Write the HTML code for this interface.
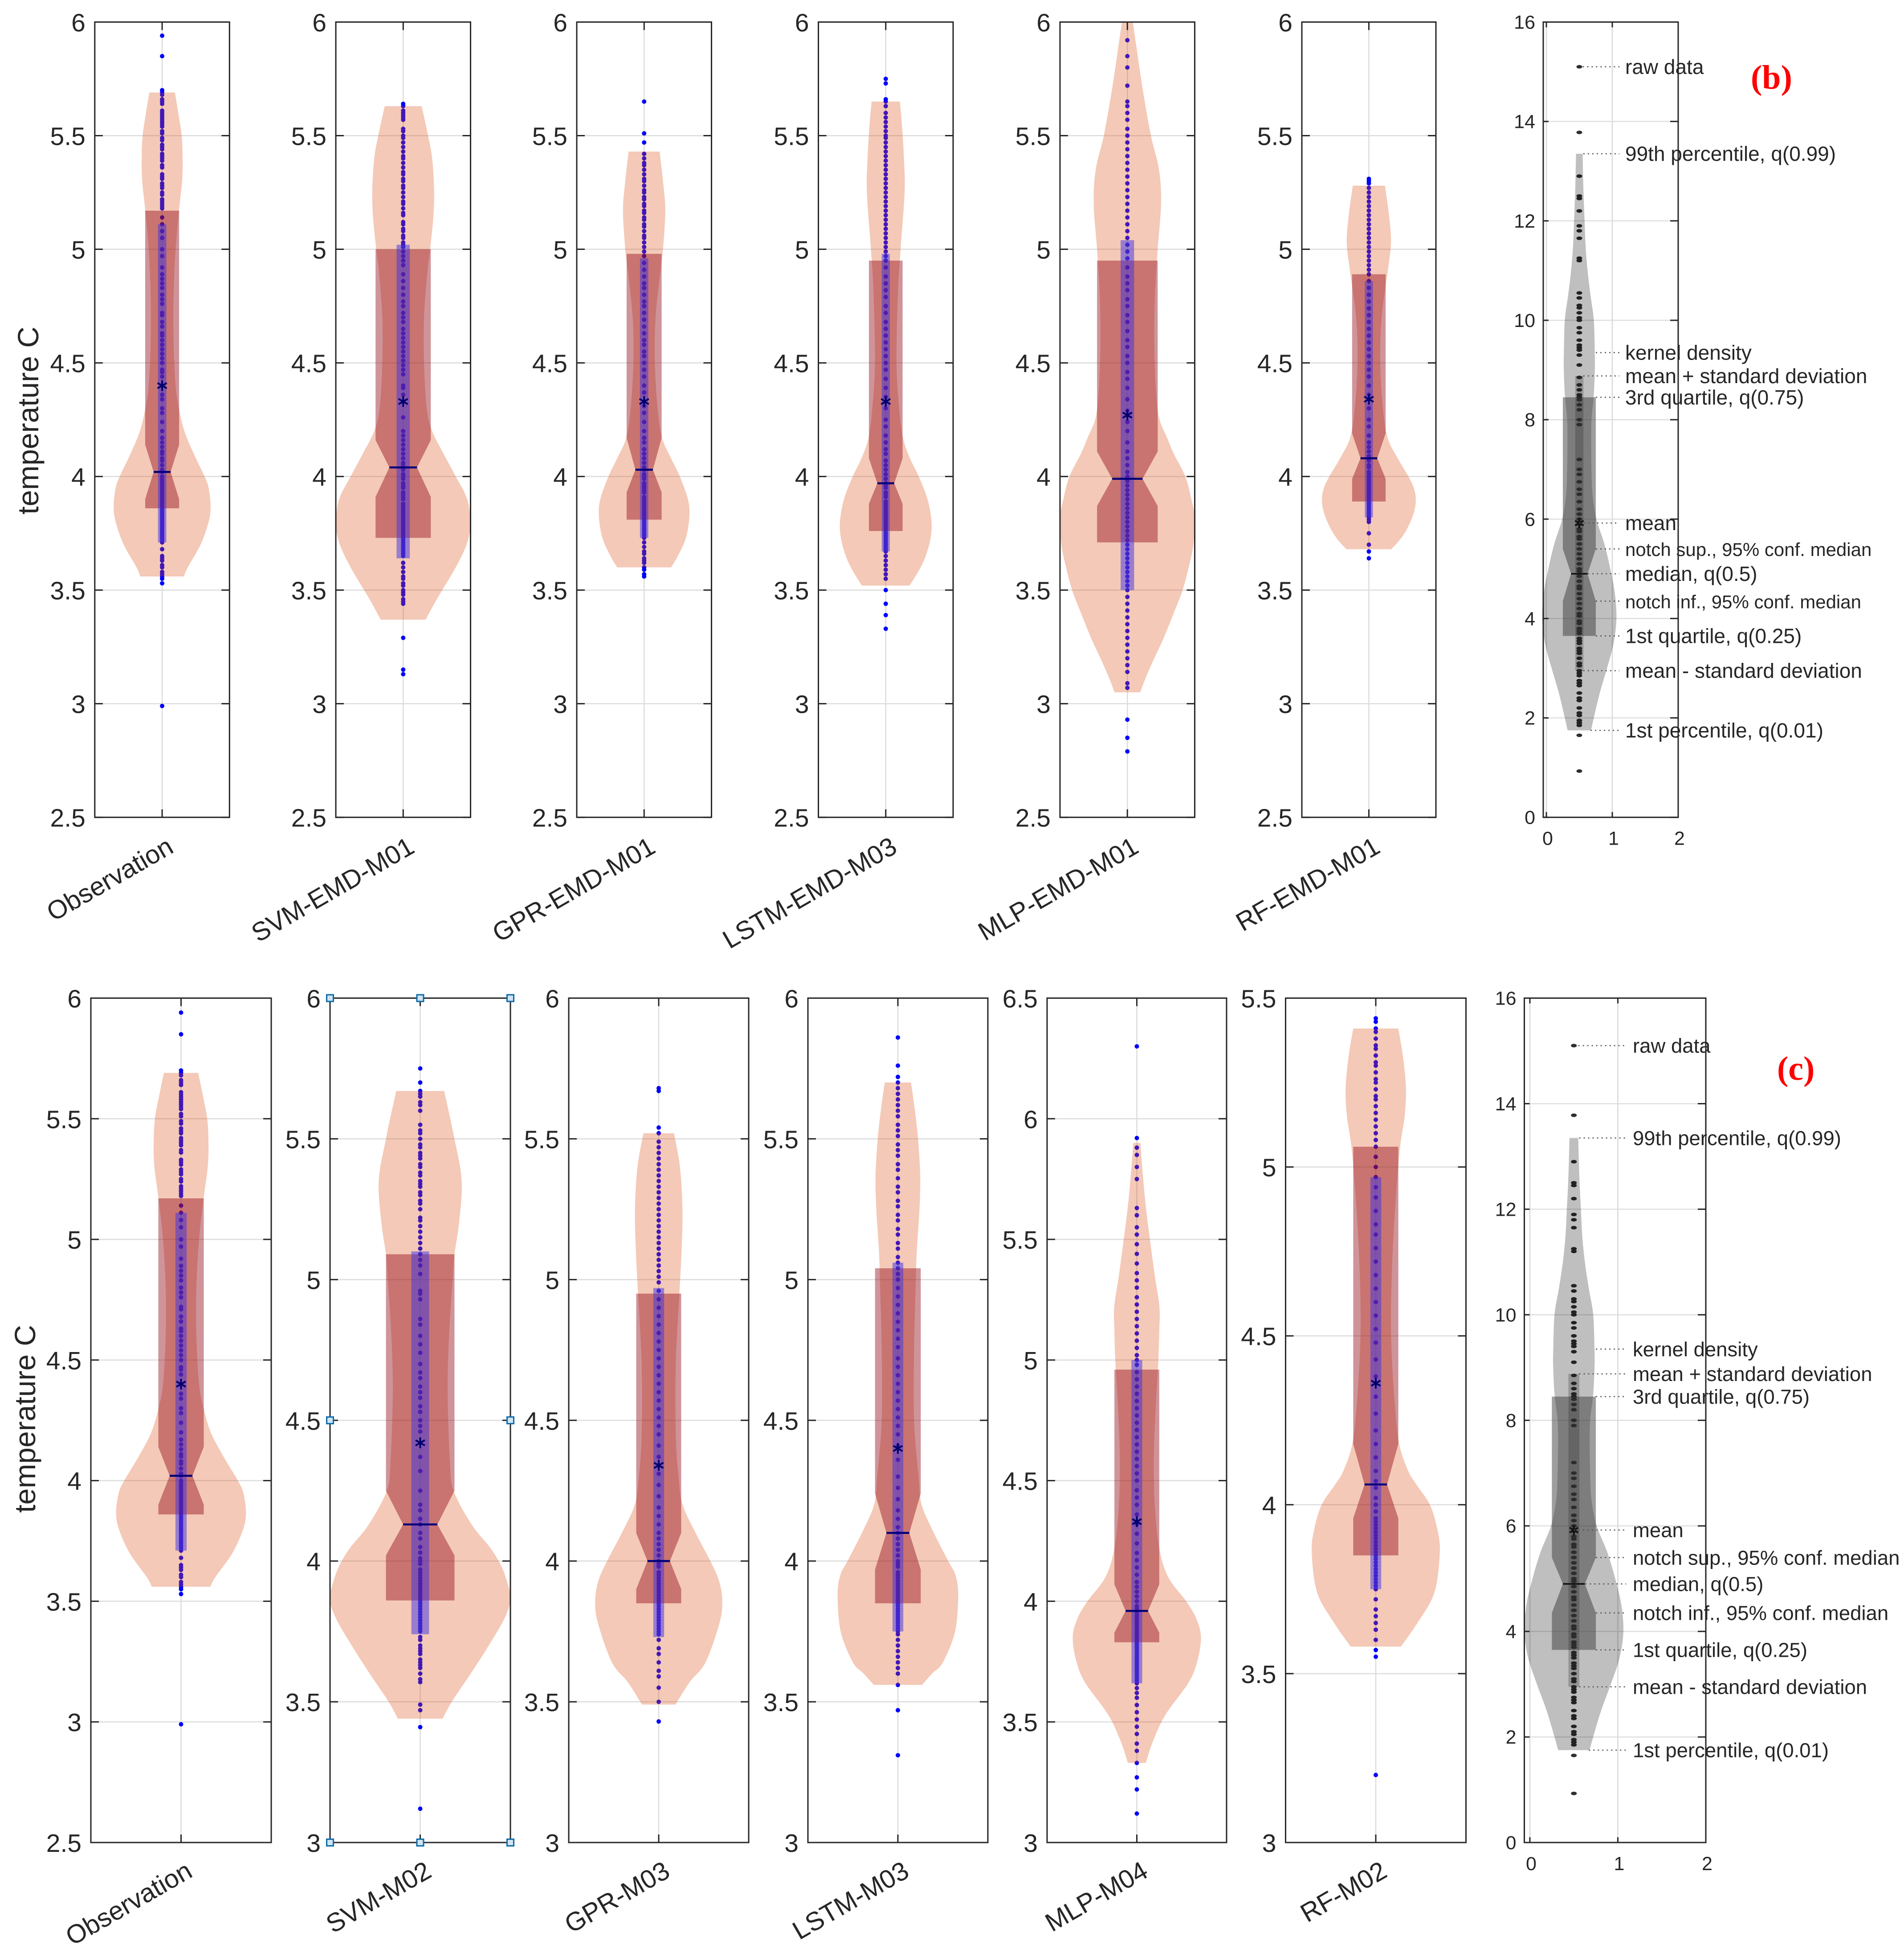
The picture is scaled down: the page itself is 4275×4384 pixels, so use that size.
<!DOCTYPE html>
<html lang="en">
<head>
<meta charset="utf-8">
<title>Violin plots of temperature: observations and models</title>
<style>
html,body{margin:0;padding:0;background:#fff}
svg{display:block}
text{font-family:"Liberation Sans",Arial,sans-serif;fill:#262626}
</style>
</head>
<body>
<svg id="chart" xmlns="http://www.w3.org/2000/svg" width="4275" height="4384" viewBox="0 0 4275 4384">
<rect width="4275" height="4384" fill="#fff"/>
</svg>
<script>
/* ---------- categories ---------- */
const panelLabels=["Observation","SVM-EMD-M01","GPR-EMD-M01","LSTM-EMD-M03","MLP-EMD-M01","RF-EMD-M01","Observation","SVM-M02","GPR-M03","LSTM-M03","MLP-M04","RF-M02"];

/* ---------- y-axis limits and tick labels ---------- */
const yLimitsLow=[2.5,2.5,2.5,2.5,2.5,2.5,2.5,3,3,3,3,3];
const yLimitsHigh=[6,6,6,6,6,6,6,6,6,6,6.5,5.5];
const ticksWide=["2.5","3","3.5","4","4.5","5","5.5","6"];
const ticksNarrow=["3","3.5","4","4.5","5","5.5","6"];
const ticksMlp=["3","3.5","4","4.5","5","5.5","6","6.5"];
const ticksRf=["3","3.5","4","4.5","5","5.5"];
const panelTicks=[ticksWide,ticksWide,ticksWide,ticksWide,ticksWide,ticksWide,ticksWide,ticksNarrow,ticksNarrow,ticksNarrow,ticksMlp,ticksRf];

/* ---------- raw data dots ---------- */
const rawObservation=[5.94,5.85,5.70,5.69,5.68,5.66,5.65,5.64,5.61,5.60,5.59,5.58,5.57,5.56,5.55,5.54,5.52,5.51,5.49,5.48,5.46,5.45,5.44,5.42,5.41,5.40,5.39,5.37,5.36,5.33,5.32,5.31,5.29,5.28,5.27,5.25,5.24,5.22,5.21,5.20,5.19,5.18,5.14,5.11,5.08,5.05,5.00,4.97,4.92,4.89,4.87,4.85,4.83,4.80,4.78,4.76,4.72,4.71,4.68,4.66,4.63,4.62,4.60,4.58,4.56,4.54,4.52,4.50,4.47,4.46,4.44,4.36,4.34,4.30,4.28,4.24,4.20,4.17,4.15,4.13,4.11,4.10,4.08,4.07,4.05,4.03,4.02,4.00,3.99,3.98,3.97,3.96,3.95,3.94,3.93,3.92,3.91,3.90,3.89,3.88,3.87,3.86,3.85,3.84,3.83,3.82,3.81,3.80,3.79,3.78,3.77,3.76,3.75,3.74,3.73,3.72,3.71,3.68,3.65,3.64,3.63,3.61,3.60,3.58,3.57,3.56,3.55,3.53,2.99];
const rawSvmEmd=[5.64,5.63,5.61,5.60,5.59,5.58,5.57,5.53,5.52,5.50,5.49,5.47,5.45,5.43,5.41,5.40,5.38,5.36,5.34,5.33,5.31,5.30,5.28,5.27,5.25,5.23,5.21,5.20,5.18,5.16,5.15,5.12,5.11,5.09,5.08,5.06,5.05,5.03,5.02,5.01,4.99,4.97,4.95,4.93,4.89,4.86,4.83,4.80,4.77,4.75,4.72,4.70,4.68,4.65,4.63,4.61,4.59,4.57,4.55,4.53,4.51,4.49,4.47,4.45,4.40,4.39,4.36,4.26,4.20,4.18,4.16,4.14,4.12,4.10,4.08,4.06,4.05,4.03,4.01,4.00,3.99,3.97,3.96,3.95,3.93,3.92,3.91,3.90,3.88,3.87,3.86,3.85,3.84,3.83,3.82,3.81,3.80,3.79,3.78,3.77,3.76,3.75,3.74,3.73,3.72,3.71,3.70,3.69,3.68,3.67,3.66,3.65,3.62,3.60,3.58,3.56,3.55,3.53,3.52,3.50,3.49,3.48,3.46,3.45,3.44,3.29,3.15,3.13];
const rawGprEmd=[5.65,5.51,5.47,5.42,5.40,5.38,5.37,5.35,5.33,5.31,5.30,5.28,5.26,5.25,5.23,5.22,5.20,5.19,5.17,5.16,5.14,5.13,5.11,5.10,5.08,5.06,5.05,5.03,5.01,4.99,4.97,4.94,4.91,4.88,4.85,4.83,4.80,4.77,4.75,4.72,4.69,4.66,4.63,4.60,4.58,4.55,4.53,4.50,4.47,4.44,4.40,4.37,4.31,4.28,4.24,4.20,4.17,4.15,4.12,4.10,4.08,4.06,4.04,4.03,4.01,4.00,3.99,3.97,3.96,3.95,3.94,3.93,3.91,3.90,3.89,3.88,3.87,3.86,3.85,3.84,3.83,3.82,3.81,3.80,3.79,3.78,3.77,3.76,3.75,3.74,3.73,3.71,3.69,3.67,3.66,3.64,3.63,3.62,3.60,3.59,3.57,3.56];
const rawLstmEmd=[5.75,5.73,5.66,5.65,5.63,5.60,5.58,5.56,5.54,5.52,5.50,5.49,5.47,5.45,5.43,5.41,5.39,5.37,5.35,5.33,5.31,5.29,5.27,5.25,5.23,5.21,5.19,5.17,5.15,5.13,5.11,5.09,5.07,5.05,5.03,5.01,4.99,4.97,4.95,4.92,4.88,4.85,4.82,4.79,4.75,4.72,4.68,4.65,4.62,4.59,4.56,4.53,4.50,4.47,4.43,4.39,4.35,4.30,4.25,4.22,4.18,4.15,4.12,4.10,4.07,4.05,4.03,4.01,3.99,3.97,3.96,3.95,3.93,3.92,3.91,3.89,3.88,3.87,3.86,3.85,3.84,3.83,3.82,3.81,3.80,3.79,3.78,3.77,3.76,3.75,3.74,3.73,3.72,3.71,3.70,3.69,3.68,3.67,3.65,3.63,3.61,3.59,3.57,3.55,3.50,3.44,3.39,3.33];
const rawMlpEmd=[5.92,5.85,5.80,5.72,5.65,5.63,5.60,5.57,5.53,5.50,5.47,5.44,5.41,5.38,5.35,5.32,5.29,5.26,5.23,5.20,5.17,5.14,5.11,5.08,5.05,5.02,4.99,4.96,4.92,4.88,4.85,4.82,4.78,4.75,4.71,4.68,4.64,4.60,4.57,4.53,4.50,4.46,4.43,4.39,4.34,4.29,4.24,4.20,4.15,4.11,4.08,4.05,4.02,4.00,3.98,3.96,3.94,3.92,3.90,3.88,3.86,3.84,3.82,3.80,3.78,3.76,3.74,3.72,3.70,3.68,3.66,3.64,3.62,3.60,3.58,3.56,3.54,3.52,3.50,3.47,3.44,3.41,3.38,3.35,3.32,3.29,3.26,3.23,3.20,3.17,3.14,3.09,3.07,2.93,2.85,2.79];
const rawRfEmd=[5.31,5.30,5.29,5.27,5.25,5.23,5.21,5.19,5.17,5.15,5.13,5.11,5.09,5.07,5.05,5.03,5.01,4.99,4.97,4.95,4.93,4.91,4.89,4.86,4.83,4.80,4.77,4.74,4.71,4.68,4.65,4.62,4.59,4.56,4.53,4.50,4.47,4.44,4.40,4.36,4.30,4.25,4.22,4.18,4.15,4.13,4.11,4.09,4.07,4.05,4.04,4.02,4.01,4.00,3.99,3.98,3.97,3.96,3.95,3.94,3.93,3.92,3.91,3.90,3.89,3.88,3.87,3.86,3.85,3.84,3.83,3.82,3.81,3.80,3.75,3.70,3.67,3.64];
const rawSvmM02=[5.75,5.70,5.67,5.66,5.65,5.63,5.62,5.60,5.55,5.53,5.52,5.50,5.48,5.47,5.45,5.44,5.43,5.41,5.40,5.38,5.37,5.35,5.34,5.33,5.31,5.30,5.28,5.27,5.25,5.22,5.21,5.19,5.17,5.15,5.13,5.11,5.09,5.07,5.05,5.02,4.96,4.95,4.93,4.86,4.84,4.80,4.77,4.74,4.70,4.67,4.65,4.62,4.60,4.58,4.55,4.53,4.50,4.48,4.46,4.42,4.37,4.32,4.25,4.20,4.18,4.15,4.13,4.10,4.08,4.05,4.03,4.01,4.00,3.99,3.97,3.96,3.95,3.94,3.93,3.92,3.91,3.90,3.89,3.88,3.87,3.86,3.85,3.84,3.83,3.82,3.81,3.80,3.79,3.78,3.77,3.76,3.75,3.73,3.72,3.70,3.69,3.68,3.67,3.65,3.64,3.63,3.62,3.60,3.58,3.57,3.49,3.47,3.41,3.12];
const rawGprM03=[5.68,5.67,5.54,5.52,5.49,5.47,5.45,5.43,5.41,5.39,5.37,5.35,5.33,5.31,5.29,5.27,5.25,5.23,5.21,5.19,5.17,5.15,5.13,5.11,5.09,5.07,5.05,5.03,5.01,4.99,4.96,4.93,4.90,4.87,4.84,4.81,4.78,4.75,4.72,4.69,4.66,4.63,4.60,4.57,4.54,4.51,4.48,4.45,4.41,4.37,4.31,4.27,4.23,4.19,4.16,4.13,4.10,4.08,4.06,4.04,4.02,4.00,3.99,3.98,3.96,3.95,3.94,3.93,3.92,3.91,3.90,3.89,3.88,3.87,3.86,3.85,3.84,3.83,3.82,3.81,3.80,3.79,3.78,3.77,3.76,3.75,3.74,3.72,3.69,3.67,3.64,3.61,3.59,3.55,3.50,3.43];
const rawLstmM03=[5.86,5.76,5.72,5.70,5.68,5.66,5.64,5.62,5.60,5.58,5.55,5.53,5.51,5.48,5.46,5.44,5.41,5.39,5.36,5.33,5.31,5.28,5.26,5.23,5.21,5.18,5.16,5.13,5.11,5.08,5.06,5.04,5.02,5.00,4.97,4.94,4.91,4.88,4.85,4.82,4.79,4.76,4.72,4.69,4.66,4.63,4.60,4.57,4.54,4.51,4.48,4.45,4.41,4.36,4.30,4.26,4.22,4.18,4.15,4.12,4.10,4.08,4.06,4.04,4.02,4.00,3.99,3.98,3.96,3.95,3.94,3.93,3.92,3.91,3.90,3.89,3.88,3.87,3.86,3.85,3.84,3.83,3.82,3.81,3.80,3.79,3.78,3.77,3.76,3.75,3.74,3.72,3.70,3.68,3.66,3.64,3.62,3.60,3.56,3.47,3.31];
const rawMlpM04=[6.30,5.92,5.88,5.85,5.80,5.75,5.63,5.60,5.55,5.52,5.48,5.44,5.40,5.36,5.33,5.30,5.26,5.23,5.20,5.17,5.14,5.11,5.08,5.05,5.02,5.00,4.98,4.95,4.92,4.89,4.86,4.83,4.80,4.77,4.74,4.71,4.68,4.65,4.62,4.59,4.56,4.53,4.50,4.46,4.43,4.40,4.36,4.32,4.28,4.24,4.20,4.17,4.14,4.11,4.08,4.06,4.04,4.02,4.00,3.98,3.97,3.96,3.95,3.94,3.93,3.92,3.91,3.90,3.89,3.88,3.87,3.86,3.85,3.84,3.83,3.82,3.81,3.80,3.79,3.78,3.77,3.76,3.75,3.74,3.73,3.72,3.71,3.70,3.69,3.68,3.67,3.66,3.64,3.62,3.60,3.57,3.54,3.51,3.48,3.45,3.41,3.38,3.33,3.27,3.22,3.12];
const rawRfM02=[5.44,5.43,5.41,5.40,5.38,5.36,5.35,5.33,5.31,5.30,5.28,5.26,5.25,5.23,5.21,5.20,5.18,5.16,5.14,5.12,5.10,5.08,5.06,5.03,5.00,4.97,4.94,4.91,4.87,4.83,4.80,4.76,4.72,4.68,4.64,4.60,4.56,4.52,4.48,4.43,4.38,4.32,4.27,4.22,4.18,4.14,4.10,4.07,4.05,4.02,4.00,3.98,3.96,3.95,3.94,3.93,3.92,3.91,3.90,3.89,3.88,3.87,3.86,3.85,3.84,3.83,3.82,3.81,3.80,3.79,3.78,3.77,3.76,3.75,3.72,3.69,3.67,3.65,3.63,3.60,3.57,3.55,3.20];
const rawReference=[15.1,13.78,12.9,12.5,12.45,12.2,11.9,11.8,11.65,11.25,11.2,10.55,10.45,10.3,10.25,10.15,10.05,10.0,9.85,9.75,9.6,9.5,9.45,9.4,9.3,9.1,8.85,8.7,8.6,8.5,8.45,8.4,8.3,8.2,8.0,7.9,7.2,7.0,6.9,6.75,6.6,6.5,6.35,6.2,6.1,6.0,5.9,5.8,5.75,5.65,5.6,5.5,5.4,5.3,5.2,5.1,5.0,4.95,4.85,4.75,4.65,4.6,4.5,4.4,4.3,4.2,4.1,4.05,3.95,3.9,3.8,3.75,3.7,3.6,3.55,3.5,3.4,3.35,3.3,3.2,3.1,3.05,2.95,2.9,2.85,2.75,2.7,2.65,2.5,2.4,2.35,2.2,2.1,2.05,1.95,1.9,1.85,1.65,0.93];
const panelRaw=[rawObservation,rawSvmEmd,rawGprEmd,rawLstmEmd,rawMlpEmd,rawRfEmd,rawObservation,rawSvmM02,rawGprM03,rawLstmM03,rawMlpM04,rawRfM02];

/* ---------- kernel density outlines: value and half-width ---------- */
const kdeObsY=[3.56,3.6,3.7,3.8,3.87,3.95,4.0,4.1,4.2,4.3,4.4,4.6,4.8,5.0,5.17,5.3,5.4,5.5,5.6,5.69];
const kdeObsW=[.162,.19,.285,.345,.36,.345,.315,.235,.165,.125,.1,.085,.085,.1,.125,.148,.152,.145,.12,.095];
const kdeSvmEmdY=[3.37,3.45,3.5,3.6,3.7,3.79,3.9,4.0,4.1,4.2,4.3,4.5,4.7,4.9,5.0,5.15,5.27,5.4,5.5,5.63];
const kdeSvmEmdW=[.167,.24,.29,.39,.47,.5,.475,.39,.3,.215,.175,.155,.155,.18,.2,.225,.229,.215,.185,.137];
const kdeGprEmdY=[3.6,3.65,3.73,3.825,3.9,4.0,4.08,4.17,4.3,4.5,4.7,4.9,5.0,5.17,5.3,5.43];
const kdeGprEmdW=[.2,.25,.31,.336,.325,.265,.2,.133,.1,.08,.085,.12,.14,.157,.14,.115];
const kdeLstmEmdY=[3.52,3.58,3.64,3.72,3.8,3.9,4.0,4.08,4.17,4.3,4.5,4.8,5.0,5.25,5.4,5.55,5.65];
const kdeLstmEmdW=[.177,.24,.29,.33,.34,.31,.245,.18,.128,.1,.08,.09,.11,.14,.135,.12,.105];
const kdeMlpEmdY=[3.05,3.12,3.2,3.29,3.4,3.5,3.6,3.7,3.82,3.9,4.0,4.1,4.17,4.26,4.4,4.6,4.8,5.0,5.2,5.35,5.5,5.7,5.9,6.0];
const kdeMlpEmdW=[.095,.14,.2,.27,.345,.41,.455,.49,.5,.475,.43,.345,.295,.235,.21,.2,.205,.225,.25,.235,.175,.115,.065,.04];
const kdeRfEmdY=[3.68,3.72,3.77,3.84,3.9,3.95,4.0,4.08,4.17,4.3,4.5,4.7,4.9,5.03,5.15,5.28];
const kdeRfEmdW=[.167,.23,.285,.335,.35,.335,.295,.215,.14,.105,.085,.095,.14,.165,.15,.12];
const kdeSvmM02Y=[3.44,3.5,3.6,3.7,3.8,3.87,3.95,4.0,4.05,4.13,4.25,4.35,4.6,4.8,5.0,5.09,5.2,5.35,5.5,5.67];
const kdeSvmM02W=[.124,.175,.28,.38,.47,.5,.47,.435,.385,.285,.185,.165,.152,.16,.18,.19,.215,.23,.19,.133];
const kdeGprM03Y=[3.49,3.57,3.64,3.78,3.86,3.93,4.0,4.1,4.2,4.3,4.45,4.7,4.95,5.1,5.25,5.4,5.52];
const kdeGprM03W=[.093,.172,.26,.338,.353,.335,.287,.205,.133,.11,.095,.095,.115,.127,.132,.118,.085];
const kdeLstmM03Y=[3.56,3.6,3.64,3.75,3.88,3.95,4.0,4.1,4.2,4.3,4.5,4.75,5.0,5.1,5.25,5.37,5.5,5.6,5.7];
const kdeLstmM03W=[.134,.19,.25,.318,.335,.32,.28,.2,.132,.115,.09,.09,.1,.105,.12,.124,.112,.095,.073];
const kdeMlpM04Y=[3.33,3.42,3.53,3.665,3.76,3.855,3.93,4.0,4.1,4.22,4.4,4.6,4.8,5.0,5.12,5.22,5.35,5.5,5.65,5.8,5.9];
const kdeMlpM04W=[.05,.09,.16,.29,.34,.357,.33,.275,.175,.125,.1,.095,.105,.12,.125,.126,.1,.073,.048,.03,.02];
const kdeRfM02Y=[3.58,3.65,3.74,3.86,3.93,4.0,4.06,4.1,4.18,4.3,4.5,4.7,4.9,5.06,5.15,5.235,5.33,5.41];
const kdeRfM02W=[.139,.231,.325,.355,.34,.3,.225,.18,.13,.105,.085,.09,.11,.135,.16,.167,.15,.125];
const kdeRefY=[1.75,2,2.5,3,3.5,4,4.5,5,5.5,6,6.5,7,7.5,8,8.5,9,9.3,10,10.5,11,11.5,12,12.5,13,13.35];
const kdeRefW=[.178,.22,.31,.42,.52,.563,.54,.47,.38,.26,.2,.185,.18,.185,.22,.235,.235,.22,.17,.125,.095,.08,.065,.055,.05];
const panelKdeY=[kdeObsY,kdeSvmEmdY,kdeGprEmdY,kdeLstmEmdY,kdeMlpEmdY,kdeRfEmdY,kdeObsY,kdeSvmM02Y,kdeGprM03Y,kdeLstmM03Y,kdeMlpM04Y,kdeRfM02Y];
const panelKdeW=[kdeObsW,kdeSvmEmdW,kdeGprEmdW,kdeLstmEmdW,kdeMlpEmdW,kdeRfEmdW,kdeObsW,kdeSvmM02W,kdeGprM03W,kdeLstmM03W,kdeMlpM04W,kdeRfM02W];

/* ---------- box statistics per panel ---------- */
const quartile1=[3.86,3.73,3.81,3.76,3.71,3.89,3.86,3.86,3.85,3.85,3.83,3.85];
const quartile3=[5.17,5.0,4.98,4.95,4.95,4.89,5.17,5.09,4.95,5.04,4.96,5.06];
const medians=[4.02,4.04,4.03,3.97,3.99,4.08,4.02,4.13,4.0,4.1,3.96,4.06];
const notchLow=[3.9,3.91,3.93,3.88,3.87,3.99,3.9,4.02,3.9,3.97,3.87,3.96];
const notchHigh=[4.14,4.16,4.17,4.08,4.11,4.19,4.14,4.25,4.1,4.24,4.07,4.18];
const means=[4.4,4.33,4.33,4.33,4.27,4.34,4.4,4.42,4.34,4.4,4.33,4.36];
const sdLow=[3.71,3.64,3.73,3.67,3.5,3.82,3.71,3.74,3.73,3.75,3.66,3.75];
const sdHigh=[5.11,5.02,4.96,4.98,5.04,4.86,5.11,5.1,4.97,5.06,5.0,4.97];
const boxHalfWidth=[.126,.205,.13,.125,.225,.125,.126,.19,.125,.127,.125,.125];
const sdHalfWidth=[.031,.049,.031,.03,.05,.03,.031,.049,.03,.03,.03,.03];

/* ---------- reference (annotated) violins ---------- */
const refStats=[3.65,4.35,4.9,5.4,8.45];
const refMean=[5.92];
const refSd=[2.95,8.88];
const refBoxHalf=[.25];
const refSdHalf=[.062];
const refTicksY=["0","2","4","6","8","10","12","14","16"];
const refTicksX=["0","1","2"];
const refLabels=["raw data","99th percentile, q(0.99)","kernel density","mean + standard deviation","3rd quartile, q(0.75)","mean","notch sup., 95% conf. median","median, q(0.5)","notch inf., 95% conf. median","1st quartile, q(0.25)","mean - standard deviation","1st percentile, q(0.01)"];
const refLabelValues=[15.1,13.35,9.35,8.88,8.45,5.92,5.4,4.9,4.35,3.65,2.95,1.75];
const refLeaderFrom=[.55,.56,.75,.56,.75,.5,.75,.63,.75,.75,.56,.67];

/* ---------- layout ---------- */
const frameLeft=[212.8,754,1295,1837.5,2380,2923,204,741,1277,1814,2351,2886.5];
const frameWidth=[302.5,302.5,302.5,302.5,302.5,301,405,405,404,404,403,405];
const rowTop=[49.5,2240.5];
const rowBottom=[1834.7,4136];

const svg=document.getElementById('chart');
const NS='http://www.w3.org/2000/svg';
function make(tag,attrs,parent){
  const e=document.createElementNS(NS,tag);
  for(const k in attrs)e.setAttribute(k,attrs[k]);
  (parent||svg).appendChild(e);
  return e;
}
function mark(cx,cy,size,parent){
  const p=[];
  for(const a of [30,90,150]){
    const r=a*Math.PI/180,dx=Math.cos(r)*size,dy=Math.sin(r)*size;
    p.push(`M${cx-dx} ${cy-dy}L${cx+dx} ${cy+dy}`);
  }
  return make('path',{d:p.join(''),stroke:'#00006e','stroke-width':4,fill:'none'},parent);
}
/* Catmull-Rom smoothing of an outline given as px points */
function smooth(points){
  let d='';
  for(let i=0;i<points.length-1;i++){
    const p0=points[Math.max(i-1,0)],p1=points[i],p2=points[i+1],p3=points[Math.min(i+2,points.length-1)];
    const c1=[p1[0]+(p2[0]-p0[0])/6,p1[1]+(p2[1]-p0[1])/6];
    const c2=[p2[0]-(p3[0]-p1[0])/6,p2[1]-(p3[1]-p1[1])/6];
    d+=`C${c1[0]} ${c1[1]} ${c2[0]} ${c2[1]} ${p2[0]} ${p2[1]}`;
  }
  return d;
}
function violinPath(ys,ws,xs,ysc,center){
  const right=ys.map((v,i)=>[xs(center+ws[i]),ysc(v)]);
  const left=ys.map((v,i)=>[xs(center-ws[i]),ysc(v)]).reverse();
  return `M${right[0][0]} ${right[0][1]}`+smooth(right)+`L${left[0][0]} ${left[0][1]}`+smooth(left)+'Z';
}
function boxPath(xs,ysc,c,h,q1,nl,med,nh,q3){
  const a=xs(c-h),b=xs(c+h),ma=xs(c-h/2),mb=xs(c+h/2);
  return `M${a} ${ysc(q1)}L${b} ${ysc(q1)}L${b} ${ysc(nl)}L${mb} ${ysc(med)}L${b} ${ysc(nh)}L${b} ${ysc(q3)}L${a} ${ysc(q3)}L${a} ${ysc(nh)}L${ma} ${ysc(med)}L${a} ${ysc(nl)}Z`;
}

/* ---------- model panels ---------- */
panelLabels.forEach((label,i)=>{
  const row=i<6?0:1,L=frameLeft[i],W=frameWidth[i],T=rowTop[row],B=rowBottom[row];
  const lo=yLimitsLow[i],hi=yLimitsHigh[i];
  const xs=f=>L+f*W;
  const ys=v=>B-(v-lo)/(hi-lo)*(B-T);
  const g=make('g',{});
  
  
  const clipId='clip'+i;
  const cp=make('clipPath',{id:clipId},g);
  make('rect',{x:L,y:T,width:W,height:B-T},cp);

  panelTicks[i].forEach(t=>{
    const y=ys(parseFloat(t));
    if(y>T+1&&y<B-1){
      const gl=make('line',{x1:L,x2:L+W,y1:y,y2:y,stroke:'#dcdcdc','stroke-width':2.5},g);
      
      
    }
  });
  const vg=make('line',{x1:xs(.5),x2:xs(.5),y1:T,y2:B,stroke:'#dcdcdc','stroke-width':2.5},g);
  
  

  const plot=make('g',{'clip-path':`url(#${clipId})`},g);
  
  

  panelRaw[i].forEach(val=>{
    const c=make('circle',{cx:xs(.5),cy:ys(val),r:5,fill:'#0000ff'},plot);
    
    
  });

  const v=make('path',{d:violinPath(panelKdeY[i],panelKdeW[i],xs,ys,.5),fill:'rgb(218,75,15)','fill-opacity':.3},plot);
  
  

  const bx=make('path',{d:boxPath(xs,ys,.5,boxHalfWidth[i],quartile1[i],notchLow[i],medians[i],notchHigh[i],quartile3[i]),fill:'rgb(140,0,15)','fill-opacity':.42},plot);
  
  

  const sd=make('rect',{x:xs(.5-sdHalfWidth[i]),width:xs(.5+sdHalfWidth[i])-xs(.5-sdHalfWidth[i]),y:ys(sdHigh[i]),height:ys(sdLow[i])-ys(sdHigh[i]),fill:'rgb(60,50,230)','fill-opacity':.5},plot);
  
  

  const med=make('line',{x1:xs(.5-boxHalfWidth[i]/2),x2:xs(.5+boxHalfWidth[i]/2),y1:ys(medians[i]),y2:ys(medians[i]),stroke:'#00007a','stroke-width':4.5},plot);
  
  

  const m=mark(xs(.5),ys(means[i]),12,plot);
  
  

  panelTicks[i].forEach(t=>{
    const y=ys(parseFloat(t));
    const tl=make('line',{x1:L,x2:L+18,y1:y,y2:y,stroke:'#262626','stroke-width':3},g);
    
    
    const tr=make('line',{x1:L+W-18,x2:L+W,y1:y,y2:y,stroke:'#262626','stroke-width':3},g);
    
    
    const tx=make('text',{x:L-21,y:y+21,'text-anchor':'end','font-size':57},g);
    tx.textContent=t;
    
    
  });
  const tt=make('line',{x1:xs(.5),x2:xs(.5),y1:T,y2:T+18,stroke:'#262626','stroke-width':3},g);
  
  
  const tb=make('line',{x1:xs(.5),x2:xs(.5),y1:B-18,y2:B,stroke:'#262626','stroke-width':3},g);
  
  

  const fr=make('rect',{x:L,y:T,width:W,height:B-T,fill:'none',stroke:'#262626','stroke-width':3},g);
  
  

  const ax=xs(.5)+29,ay=B+(row?75:77);
  const xl=make('text',{x:ax,y:ay,'text-anchor':'end','font-size':58.5,transform:`rotate(-30 ${ax} ${ay})`},g);
  xl.textContent=label;
  
  
});

/* ---------- y-axis titles ---------- */
[[86,944],[79,3185]].forEach(p=>{
  const t=make('text',{x:p[0],y:p[1],'text-anchor':'middle','font-size':66,transform:`rotate(-90 ${p[0]} ${p[1]})`});
  t.textContent='temperature C';
  
  
});

/* ---------- selection handles on the SVM-M02 axes ---------- */
(function(){
  const L=frameLeft[7],R=L+frameWidth[7],T=rowTop[1],B=rowBottom[1],C=(L+R)/2,M=(T+B)/2;
  [[L,T],[C,T],[R,T],[L,M],[R,M],[L,B],[C,B],[R,B]].forEach(p=>{
    const h=make('rect',{x:p[0]-7.5,y:p[1]-7.5,width:15,height:15,fill:'#cfe4f2',stroke:'#0b6aa8','stroke-width':3});
    
    
  });
})();

/* ---------- reference panels ---------- */
function drawReference(left,zero,two,T,B,labelX,leaderEnd,labelFont,notchFont,tag){
  const g=make('g',{});
  
  
  const xs=v=>zero+v/2*(two-zero);
  const ys=v=>B-v/16*(B-T);
  refTicksY.forEach(t=>{
    const y=ys(+t);
    if(+t>0&&+t<16){
      const gl=make('line',{x1:left,x2:two,y1:y,y2:y,stroke:'#dedede','stroke-width':2.5},g);
      
      
    }
  });
  ['0','1'].forEach(t=>{
    const gl=make('line',{x1:xs(+t),x2:xs(+t),y1:T,y2:B,stroke:'#dedede','stroke-width':3},g);
    
    
  });
  rawReference.forEach(val=>{
    const c=make('ellipse',{cx:xs(.5),cy:ys(val),rx:6.5,ry:4,fill:'#2e2e2e'},g);
    
    
  });
  const v=make('path',{d:violinPath(kdeRefY,kdeRefW,xs,ys,.5),fill:'#000','fill-opacity':.25},g);
  
  
  const bx=make('path',{d:boxPath(xs,ys,.5,refBoxHalf[0],refStats[0],refStats[1],refStats[2],refStats[3],refStats[4]),fill:'rgb(60,60,60)','fill-opacity':.5},g);
  
  
  const sd=make('rect',{x:xs(.5-refSdHalf[0]),width:xs(.5+refSdHalf[0])-xs(.5-refSdHalf[0]),y:ys(refSd[1]),height:ys(refSd[0])-ys(refSd[1]),fill:'rgb(40,40,40)','fill-opacity':.28},g);
  
  
  const med=make('line',{x1:xs(.5-refBoxHalf[0]/2),x2:xs(.5+refBoxHalf[0]/2),y1:ys(refStats[2]),y2:ys(refStats[2]),stroke:'#111','stroke-width':3.5},g);
  
  
  const m=mark(xs(.5),ys(refMean[0]),11,g);
  m.setAttribute('stroke','#111');
  
  

  refTicksY.forEach(t=>{
    const y=ys(+t);
    const a=make('line',{x1:two-18,x2:two,y1:y,y2:y,stroke:'#262626','stroke-width':3},g);
    
    
    const b=make('line',{x1:left,x2:left+12,y1:y,y2:y,stroke:'#262626','stroke-width':3},g);
    
    
    const tx=make('text',{x:left-18,y:y+15,'text-anchor':'end','font-size':43},g);
    tx.textContent=t;
    
    
  });
  refTicksX.forEach(t=>{
    const x=xs(+t);
    const a=make('line',{x1:x,x2:x,y1:B-12,y2:B,stroke:'#262626','stroke-width':3},g);
    
    
    const b=make('line',{x1:x,x2:x,y1:T,y2:T+12,stroke:'#262626','stroke-width':3},g);
    
    
    const tx=make('text',{x:x+3,y:B+62,'text-anchor':'middle','font-size':43},g);
    tx.textContent=t;
    
    
  });
  const fr=make('rect',{x:left,y:T,width:two-left,height:B-T,fill:'none',stroke:'#262626','stroke-width':3},g);
  
  

  refLabels.forEach((txt,i)=>{
    const y=ys(refLabelValues[i]);
    const l=make('line',{x1:xs(refLeaderFrom[i]),x2:leaderEnd,y1:y,y2:y,stroke:'#555','stroke-width':2.5,'stroke-dasharray':'3 7'},g);
    
    
    const isNotch=txt.indexOf('notch')===0;
    const t=make('text',{x:labelX,y:y+16,'font-size':isNotch?notchFont:labelFont},g);
    t.textContent=txt;
    
    
  });
}
drawReference(3465,3472,3768,49.5,1834.7,3649,3636,46,42,'b');
drawReference(3422.5,3435,3830,2240.5,4136,3666,3651,45.5,45.5,'c');

/* ---------- panel letters ---------- */
[["(b)",3931,199],["(c)",3990,2424]].forEach(p=>{
  const t=make('text',{x:p[1],y:p[2],'font-size':76,'font-weight':'bold'});
  t.setAttribute('style','font-family:"Liberation Serif",serif;fill:#f00');
  t.textContent=p[0];
  
  
});
</script>
</body>
</html>
